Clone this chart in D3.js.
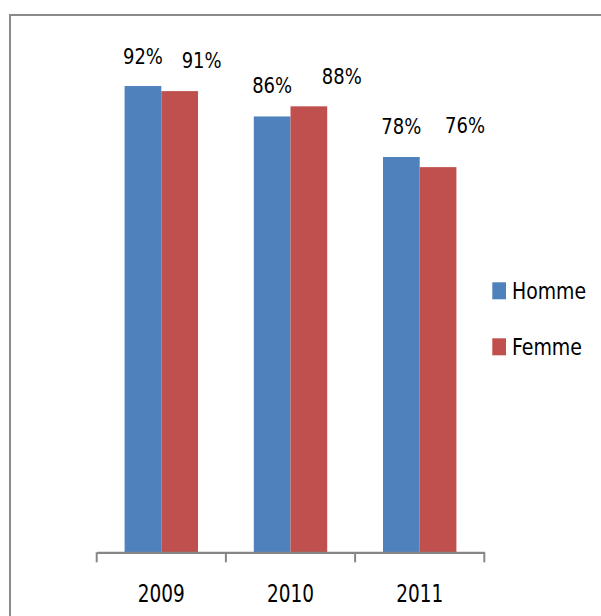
<!DOCTYPE html>
<html>
<head>
<meta charset="utf-8">
<script src="https://cdn.jsdelivr.net/npm/d3@7"></script>
<style>
  html, body { margin: 0; padding: 0; background: #fff; }
  svg { display: block; }
  text { font-family: "Liberation Sans Narrow", "Arial Narrow", "DejaVu Sans Condensed", sans-serif; fill: #000; }
</style>
</head>
<body>
<svg id="chart" width="601" height="616"></svg>
<script>
// ---- data ----
const years = ["2009", "2010", "2011"];
const series = ["Homme", "Femme"];
const homme = [0.92, 0.86, 0.78];
const femme = [0.91, 0.88, 0.76];
const labels = { Homme: ["92%", "86%", "78%"], Femme: ["91%", "88%", "76%"] };

// ---- styles ----
const colors = { Homme: "#4F81BD", Femme: "#C0504D" };
const labelDx = { Homme: [0, 0, 0], Femme: [22, 33, 27] };
const labelDy = { Homme: [-22, -23, -23], Femme: [-23, -22, -34] };

const svg = d3.select("#chart");

// outer border (chart area frame)
svg.append("rect")
  .attr("x", 10).attr("y", 15)
  .attr("width", 700).attr("height", 700)
  .attr("fill", "none").attr("stroke", "#8a8a8a").attr("stroke-width", 2);

const baseY = 552.3;
const x0 = d3.scaleBand().domain(years).range([96.7, 484.3]).padding(0);
const x1 = d3.scaleBand().domain(series).range([0, x0.bandwidth()])
  .paddingInner(0).paddingOuter(0.76);
const y = d3.scaleLinear().domain([0, 1]).range([baseY, 45.5]);

const rows = years.map((yr, i) => ({ year: yr, i, Homme: homme[i], Femme: femme[i] }));

const g = svg.append("g");
const groups = g.selectAll("g.cat").data(rows).join("g")
  .attr("class", "cat")
  .attr("transform", d => `translate(${x0(d.year)},0)`);

groups.selectAll("rect").data(d => series.map(s => ({ s, v: d[s], i: d.i }))).join("rect")
  .attr("x", d => x1(d.s))
  .attr("y", d => y(d.v))
  .attr("width", x1.bandwidth())
  .attr("height", d => baseY - y(d.v))
  .attr("fill", d => colors[d.s]);

groups.selectAll("text.lbl").data(d => series.map(s => ({ s, v: d[s], i: d.i }))).join("text")
  .attr("class", "lbl")
  .attr("x", d => x1(d.s) + x1.bandwidth() / 2 + labelDx[d.s][d.i])
  .attr("y", d => y(d.v) + labelDy[d.s][d.i])
  .attr("text-anchor", "middle")
  .attr("font-size", 21)
  .attr("textLength", 40)
  .attr("lengthAdjust", "spacingAndGlyphs")
  .text(d => labels[d.s][d.i]);

// x axis
const axis = d3.axisBottom(x0).tickSize(0).tickFormat("");
const ax = svg.append("g").attr("transform", `translate(0,${baseY})`).call(axis);
ax.select(".domain").attr("stroke", "#868686").attr("stroke-width", 2.2);
ax.selectAll(".tick").remove();

// tick marks at band boundaries
const bounds = years.map(yr => x0(yr)).concat([x0.range()[1]]);
ax.selectAll("line.tk").data(bounds).join("line")
  .attr("class", "tk")
  .attr("x1", d => d).attr("x2", d => d)
  .attr("y1", 0).attr("y2", 10)
  .attr("stroke", "#868686").attr("stroke-width", 2);

ax.selectAll("text.yr").data(years).join("text")
  .attr("class", "yr")
  .attr("x", d => x0(d) + x0.bandwidth() / 2)
  .attr("y", 49.4)
  .attr("text-anchor", "middle")
  .attr("font-size", 24.5)
  .attr("textLength", 47)
  .attr("lengthAdjust", "spacingAndGlyphs")
  .text(d => d);

// legend
const legY = [282.3, 338.3];
const legW = [74, 70];
const leg = svg.append("g");
series.forEach((s, i) => {
  leg.append("rect")
    .attr("x", 492.3).attr("y", legY[i])
    .attr("width", 13.7).attr("height", 17)
    .attr("fill", colors[s]);
  leg.append("text")
    .attr("x", 512).attr("y", legY[i] + 17)
    .attr("font-size", 23)
    .attr("textLength", legW[i])
    .attr("lengthAdjust", "spacingAndGlyphs")
    .text(s);
});
</script>
</body>
</html>
